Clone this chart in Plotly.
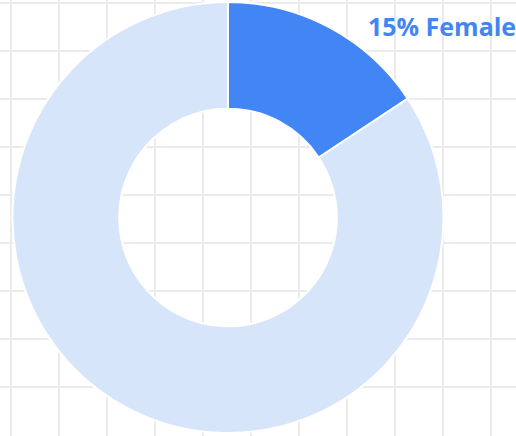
import plotly.graph_objects as go

labels = ["Female", "Male"]
values = [15.7, 84.3]
colors = ["#4285F4", "#D7E5FA"]
label_text = "15% Female"

W, H = 516, 436
fig = go.Figure()
# invisible trace so the cartesian grid is drawn behind the donut
fig.add_trace(go.Scatter(x=[0], y=[0], mode="markers", marker=dict(opacity=0),
                         hoverinfo="skip", showlegend=False))
fig.add_trace(go.Pie(
    labels=labels, values=values, hole=0.505, sort=False, direction="clockwise",
    rotation=0, textinfo="none", hoverinfo="label+percent",
    marker=dict(colors=colors, line=dict(color="white", width=2)),
    domain=dict(x=[12.5 / W, 443.5 / W], y=[3 / H, 434 / H]),
    showlegend=False,
))
fig.add_annotation(
    text="<b>" + label_text + "</b>", x=518 / W, y=1 - 25.5 / H, xref="paper", yref="paper",
    xanchor="right", yanchor="middle", showarrow=False,
    font=dict(family="Open Sans", size=25, color="#4285F4"),
)
fig.update_layout(
    width=W, height=H, margin=dict(l=0, r=0, t=0, b=0),
    paper_bgcolor="white", plot_bgcolor="white",
    xaxis=dict(range=[0, W], tick0=11, dtick=48, showgrid=True, gridcolor="#EBEBEB",
               gridwidth=2, zeroline=False, showticklabels=False, fixedrange=True,
               showline=False),
    yaxis=dict(range=[H, 0], tick0=3, dtick=48, showgrid=True, gridcolor="#EBEBEB",
               gridwidth=2, zeroline=False, showticklabels=False, fixedrange=True,
               showline=False),
)
fig.write_html("out.html", config={"displayModeBar": False},
               post_script="document.body.style.margin='0';")
